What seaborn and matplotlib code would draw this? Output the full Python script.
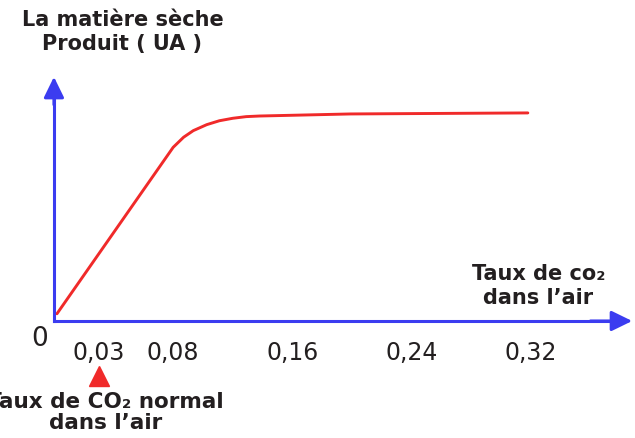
import matplotlib
matplotlib.use("Agg")
import matplotlib.pyplot as plt
import seaborn as sns

# Données (taux de CO2 dans l'air, matière sèche en UA)
taux_co2 = [0.002, 0.080, 0.087, 0.0935, 0.1025, 0.111, 0.120, 0.129, 0.138, 0.199, 0.318]
matiere_seche = [0.35, 8.43, 8.92, 9.24, 9.53, 9.72, 9.84, 9.92, 9.95, 10.05, 10.10]

graduations = [0.03, 0.08, 0.16, 0.24, 0.32]
etiquettes = ["0,03", "0,08", "0,16", "0,24", "0,32"]
taux_normal = 0.03

bleu = "#3b3cf0"
rouge = "#f02a2a"
texte = "#231f20"

sns.set_style("white")
plt.rcParams['font.family'] = ['DejaVu Sans']

fig = plt.figure(figsize=(6.35, 4.39), dpi=100)
ax = fig.add_axes([0, 0, 1, 1])
ax.set_xlim(-0.0362, 0.3899)
ax.set_ylim(-5.68, 15.63)

# courbe
sns.lineplot(x=taux_co2, y=matiere_seche, color=rouge, lw=2.1, ax=ax)

# axes avec flèches
for cote in ["top", "right"]:
    ax.spines[cote].set_visible(False)
ax.spines["left"].set_position(("data", 0))
ax.spines["bottom"].set_position(("data", 0))
ax.spines["left"].set_bounds(0, 11.2)
ax.spines["bottom"].set_bounds(0, 0.375)
for cote in ["left", "bottom"]:
    ax.spines[cote].set_color(bleu)
    ax.spines[cote].set_linewidth(2.2)

fleche = dict(arrowstyle="-|>,head_length=0.45,head_width=0.22", color=bleu,
              lw=2.2, mutation_scale=28, shrinkA=0, shrinkB=0)
ax.annotate("", xy=(0, 11.85), xytext=(0, 10.5), arrowprops=fleche)
ax.annotate("", xy=(0.388, 0), xytext=(0.36, 0), arrowprops=fleche)

ax.set_yticks([])
ax.set_xticks(graduations)
ax.set_xticklabels(etiquettes, fontsize=17, color=texte)
ax.tick_params(axis="x", direction="out", length=7.5, width=1.6, color=texte, pad=6)

ax.text(-0.0095, -0.85, "0", fontsize=19, color=texte, ha="center", va="center")

# titres des axes
ax.text(0.046, 14.1, "La matière sèche\nProduit ( UA )", fontsize=15, fontweight="bold",
        color=texte, ha="center", va="center", linespacing=1.25)
ax.text(0.325, 1.75, "Taux de co₂\ndans l’air", fontsize=15, fontweight="bold",
        color=texte, ha="center", va="center", linespacing=1.25)

# taux normal de CO2
ax.plot([taux_normal], [-2.65], marker="^", ms=14, color=rouge, ls="none", clip_on=False)
ax.text(0.0345, -4.4, "Taux de CO₂ normal\ndans l’air", fontsize=15.5, fontweight="bold",
        color=texte, ha="center", va="center", linespacing=1.1)

fig.savefig("out.png", dpi=100)
